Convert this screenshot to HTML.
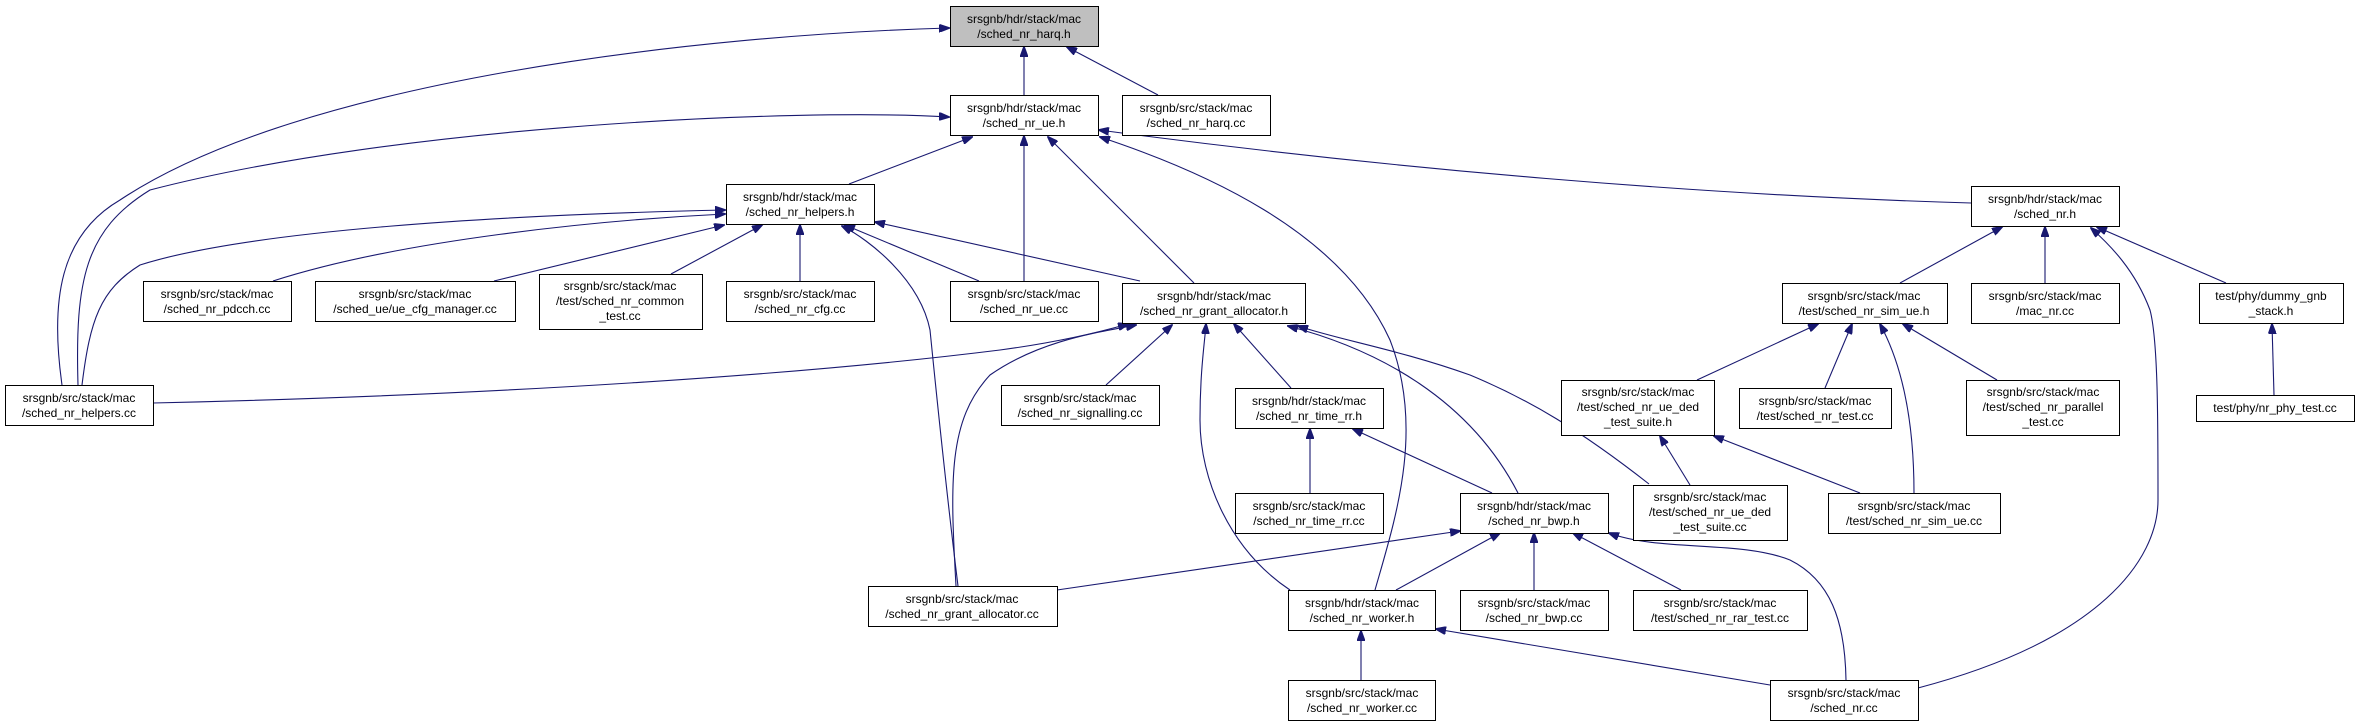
<!DOCTYPE html>
<html><head><meta charset="utf-8"><style>
html,body{margin:0;padding:0;background:#fff;}
svg{display:block;}
text{font-family:"Liberation Sans",sans-serif;font-size:12px;fill:#000;text-anchor:middle;}
rect{fill:#fff;stroke:#000;stroke-width:1;}
path{fill:none;stroke:#191970;stroke-width:1.1;}
</style></head><body>
<svg width="2360" height="721" viewBox="0 0 2360 721" xmlns="http://www.w3.org/2000/svg">
<defs><marker id="a" markerWidth="11" markerHeight="8" refX="10" refY="4" orient="auto" markerUnits="userSpaceOnUse"><path d="M0,0 L11,4 L0,8 Z" style="fill:#191970;stroke:#191970"/></marker></defs>
<g marker-end="url(#a)">
<path d="M1024,95 L1024,47"/>
<path d="M1158,95 L1067,47"/>
<path d="M62,385 C50,300 60,235 120,200 C300,80 700,35 949,28"/>
<path d="M78,385 C75,280 85,230 150,190 C400,125 800,108 949,117"/>
<path d="M849,184 L972,137"/>
<path d="M1024,281 L1024,136"/>
<path d="M1194,283 L1048,137"/>
<path d="M1375,590 C1395,520 1425,430 1390,340 C1340,230 1200,170 1100,137"/>
<path d="M1971,203 C1700,195 1400,170 1099,130"/>
<path d="M82,385 C90,320 100,290 140,265 C250,230 500,215 725,210"/>
<path d="M273,281 C400,240 600,220 725,214"/>
<path d="M494,281 L724,225"/>
<path d="M671,274 L762,225"/>
<path d="M800,281 L800,225"/>
<path d="M979,281 L845,225"/>
<path d="M1140,281 L875,222"/>
<path d="M958,586 C945,480 935,380 930,330 C920,280 870,240 842,226"/>
<path d="M153,403 C500,395 800,375 1000,350 C1060,342 1100,332 1128,324"/>
<path d="M1106,385 L1172,325"/>
<path d="M956,586 C950,480 948,420 990,375 C1040,340 1100,332 1136,325"/>
<path d="M1291,388 L1234,324"/>
<path d="M1290,590 C1230,550 1200,480 1200,420 C1200,370 1205,340 1206,324"/>
<path d="M1518,493 C1470,400 1380,350 1288,326"/>
<path d="M1649,484 C1580,430 1530,400 1470,375 C1400,350 1340,340 1298,326"/>
<path d="M1900,283 L2002,227"/>
<path d="M2045,283 L2045,227"/>
<path d="M2226,283 L2097,227"/>
<path d="M1918,688 C2100,640 2158,560 2158,500 C2158,420 2158,340 2150,310 C2135,270 2110,245 2091,228"/>
<path d="M1697,380 L1818,324"/>
<path d="M1825,388 L1852,324"/>
<path d="M1997,380 L1903,324"/>
<path d="M1914,493 C1914,430 1905,370 1880,324"/>
<path d="M2274,395 L2272,324"/>
<path d="M1690,485 L1660,436"/>
<path d="M1860,493 L1714,436"/>
<path d="M1310,493 L1310,429"/>
<path d="M1492,493 L1353,429"/>
<path d="M1057,590 L1460,531"/>
<path d="M1396,590 L1500,533"/>
<path d="M1534,590 L1534,533"/>
<path d="M1681,590 L1573,533"/>
<path d="M1846,680 C1845,620 1830,580 1790,560 C1740,540 1660,552 1609,533"/>
<path d="M1361,680 L1361,631"/>
<path d="M1770,685 L1436,629"/>
</g>
<rect x="950.5" y="6.5" width="148" height="40" style="fill:#bfbfbf"/><text x="1024" y="23">srsgnb/hdr/stack/mac</text><text x="1024" y="38">/sched_nr_harq.h</text>
<rect x="950.5" y="95.5" width="148" height="40"/><text x="1024" y="112">srsgnb/hdr/stack/mac</text><text x="1024" y="127">/sched_nr_ue.h</text>
<rect x="1122.5" y="95.5" width="148" height="40"/><text x="1196" y="112">srsgnb/src/stack/mac</text><text x="1196" y="127">/sched_nr_harq.cc</text>
<rect x="726.5" y="184.5" width="148" height="40"/><text x="800" y="201">srsgnb/hdr/stack/mac</text><text x="800" y="216">/sched_nr_helpers.h</text>
<rect x="143.5" y="281.5" width="148" height="40"/><text x="217" y="298">srsgnb/src/stack/mac</text><text x="217" y="313">/sched_nr_pdcch.cc</text>
<rect x="315.5" y="281.5" width="200" height="40"/><text x="415" y="298">srsgnb/src/stack/mac</text><text x="415" y="313">/sched_ue/ue_cfg_manager.cc</text>
<rect x="539.5" y="274.5" width="163" height="55"/><text x="620" y="290">srsgnb/src/stack/mac</text><text x="620" y="305">/test/sched_nr_common</text><text x="620" y="320">_test.cc</text>
<rect x="726.5" y="281.5" width="148" height="40"/><text x="800" y="298">srsgnb/src/stack/mac</text><text x="800" y="313">/sched_nr_cfg.cc</text>
<rect x="950.5" y="281.5" width="148" height="40"/><text x="1024" y="298">srsgnb/src/stack/mac</text><text x="1024" y="313">/sched_nr_ue.cc</text>
<rect x="1122.5" y="283.5" width="183" height="40"/><text x="1214" y="300">srsgnb/hdr/stack/mac</text><text x="1214" y="315">/sched_nr_grant_allocator.h</text>
<rect x="5.5" y="385.5" width="148" height="40"/><text x="79" y="402">srsgnb/src/stack/mac</text><text x="79" y="417">/sched_nr_helpers.cc</text>
<rect x="1001.5" y="385.5" width="158" height="40"/><text x="1080" y="402">srsgnb/src/stack/mac</text><text x="1080" y="417">/sched_nr_signalling.cc</text>
<rect x="868.5" y="586.5" width="189" height="40"/><text x="962" y="603">srsgnb/src/stack/mac</text><text x="962" y="618">/sched_nr_grant_allocator.cc</text>
<rect x="1971.5" y="186.5" width="148" height="40"/><text x="2045" y="203">srsgnb/hdr/stack/mac</text><text x="2045" y="218">/sched_nr.h</text>
<rect x="1782.5" y="283.5" width="165" height="40"/><text x="1864" y="300">srsgnb/src/stack/mac</text><text x="1864" y="315">/test/sched_nr_sim_ue.h</text>
<rect x="1971.5" y="283.5" width="148" height="40"/><text x="2045" y="300">srsgnb/src/stack/mac</text><text x="2045" y="315">/mac_nr.cc</text>
<rect x="2199.5" y="283.5" width="144" height="40"/><text x="2271" y="300">test/phy/dummy_gnb</text><text x="2271" y="315">_stack.h</text>
<rect x="1235.5" y="388.5" width="148" height="40"/><text x="1309" y="405">srsgnb/hdr/stack/mac</text><text x="1309" y="420">/sched_nr_time_rr.h</text>
<rect x="1561.5" y="380.5" width="153" height="55"/><text x="1638" y="396">srsgnb/src/stack/mac</text><text x="1638" y="411">/test/sched_nr_ue_ded</text><text x="1638" y="426">_test_suite.h</text>
<rect x="1739.5" y="388.5" width="152" height="40"/><text x="1815" y="405">srsgnb/src/stack/mac</text><text x="1815" y="420">/test/sched_nr_test.cc</text>
<rect x="1966.5" y="380.5" width="153" height="55"/><text x="2043" y="396">srsgnb/src/stack/mac</text><text x="2043" y="411">/test/sched_nr_parallel</text><text x="2043" y="426">_test.cc</text>
<rect x="2196.5" y="395.5" width="158" height="26"/><text x="2275" y="412">test/phy/nr_phy_test.cc</text>
<rect x="1235.5" y="493.5" width="148" height="40"/><text x="1309" y="510">srsgnb/src/stack/mac</text><text x="1309" y="525">/sched_nr_time_rr.cc</text>
<rect x="1460.5" y="493.5" width="148" height="40"/><text x="1534" y="510">srsgnb/hdr/stack/mac</text><text x="1534" y="525">/sched_nr_bwp.h</text>
<rect x="1633.5" y="485.5" width="154" height="55"/><text x="1710" y="501">srsgnb/src/stack/mac</text><text x="1710" y="516">/test/sched_nr_ue_ded</text><text x="1710" y="531">_test_suite.cc</text>
<rect x="1828.5" y="493.5" width="172" height="40"/><text x="1914" y="510">srsgnb/src/stack/mac</text><text x="1914" y="525">/test/sched_nr_sim_ue.cc</text>
<rect x="1288.5" y="590.5" width="147" height="40"/><text x="1362" y="607">srsgnb/hdr/stack/mac</text><text x="1362" y="622">/sched_nr_worker.h</text>
<rect x="1460.5" y="590.5" width="148" height="40"/><text x="1534" y="607">srsgnb/src/stack/mac</text><text x="1534" y="622">/sched_nr_bwp.cc</text>
<rect x="1633.5" y="590.5" width="174" height="40"/><text x="1720" y="607">srsgnb/src/stack/mac</text><text x="1720" y="622">/test/sched_nr_rar_test.cc</text>
<rect x="1288.5" y="680.5" width="147" height="40"/><text x="1362" y="697">srsgnb/src/stack/mac</text><text x="1362" y="712">/sched_nr_worker.cc</text>
<rect x="1770.5" y="680.5" width="148" height="40"/><text x="1844" y="697">srsgnb/src/stack/mac</text><text x="1844" y="712">/sched_nr.cc</text>
</svg>
</body></html>
